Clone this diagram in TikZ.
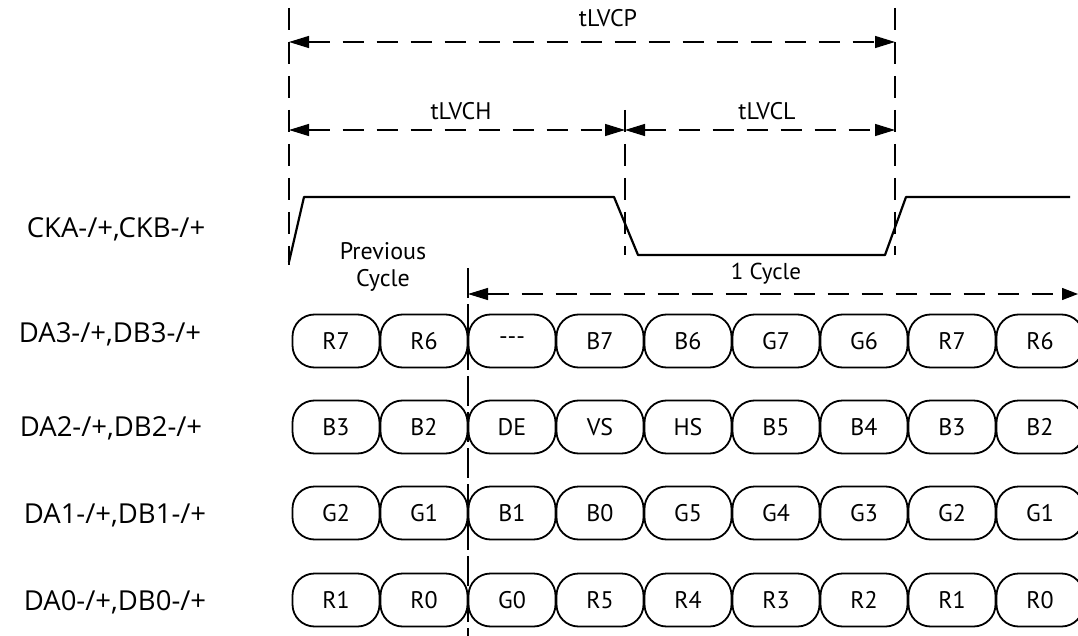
\documentclass[tikz,border=0pt]{standalone}
\usepackage{fontspec}
\setmainfont{PT Sans}
\newfontfamily\labelfont{Open Sans}
\usetikzlibrary{arrows.meta}

\tikzset{
    cell/.style={draw, line width=1.8pt, rounded corners=22pt,
        minimum width=87pt, minimum height=53pt, inner sep=0pt,
        font=\fontsize{24}{26}\selectfont},
    sig/.style={font=\labelfont\fontsize{27.5}{30}\selectfont},
    dimline/.style={line width=1.3pt, dash pattern=on 21pt off 13pt,
        {Triangle[length=20pt,width=12pt]}-{Triangle[length=20pt,width=12pt]}},
    guide/.style={line width=1.3pt, dash pattern=on 22pt off 12pt},
    dimtext/.style={font=\fontsize{24}{26}\selectfont}
}

\begin{document}
\begin{tikzpicture}[x=1pt, y=-1pt]
    \useasboundingbox (0,0) rectangle (1078,636);

    % 1. Guide points
    \coordinate (A0) at (289, 8);     % start of period
    \coordinate (A1) at (289, 265);
    \coordinate (B0) at (625, 110);   % falling edge
    \coordinate (B1) at (625, 255);
    \coordinate (C0) at (895, 8);     % end of period
    \coordinate (C1) at (895, 255);
    \coordinate (D0) at (468, 268);   % start of cycle
    \coordinate (D1) at (468, 636);

    \draw[guide] (A0) -- (A1);
    \draw[guide] (B0) -- (B1);
    \draw[guide] (C0) -- (C1);
    \draw[guide, dash pattern=on 30pt off 6pt, line width=1.1pt] (D0) -- (D1);

    % 2. Timing arrows
    \coordinate (PL) at (289, 42);
    \coordinate (PR) at (895, 42);
    \coordinate (HL) at (289, 130);
    \coordinate (HR) at (625, 130);
    \coordinate (LR) at (895, 130);
    \coordinate (YL) at (468, 294);
    \coordinate (YR) at (1078, 294);

    \draw[dimline] (PL) -- (PR);
    \draw[dimline] (HL) -- (HR);
    \draw[dimline] (HR) -- (LR);
    \draw[dimline, {Triangle[length=20pt,width=12pt]}-{Triangle[length=16pt,width=12pt]}] (YL) -- (YR);

    \node[dimtext] (tlvcp) at (608, 18) {tLVCP};
    \node[dimtext] (tlvch) at (461, 111) {tLVCH};
    \node[dimtext] (tlvcl) at (767, 111) {tLVCL};
    \node[dimtext, font=\fontsize{23}{25}\selectfont] (cyc) at (766, 274) {1 Cycle};
    \node[dimtext, align=center, font=\fontsize{24}{27}\selectfont] (prev) at (383, 267) {Previous\\Cycle};

    % 3. Clock waveform
    \draw[line width=2.2pt, line join=round]
        (289, 262) -- (304, 197) -- (614, 197) -- (638, 255)
        -- (885, 255) -- (906, 197) -- (1070, 197);

    % 4. Signal names
    \node[sig] (ck) at (116, 229) {CKA-/+,CKB-/+};
    \node[sig] (d3) at (110, 334) {DA3-/+,DB3-/+};
    \node[sig] (d2) at (111, 428) {DA2-/+,DB2-/+};
    \node[sig] (d1) at (115, 515) {DA1-/+,DB1-/+};
    \node[sig] (d0) at (115, 602) {DA0-/+,DB0-/+};

    % 5. Data cells
    \begin{scope}
        \clip (0,0) rectangle (1078,636);
        \foreach \row/\y/\bits in {
            3/341/{R7,R6,-{}-{}-,B7,B6,G7,G6,R7,R6},
            2/427/{B3,B2,DE,VS,HS,B5,B4,B3,B2},
            1/513/{G2,G1,B1,B0,G5,G4,G3,G2,G1},
            0/600/{R1,R0,G0,R5,R4,R3,R2,R1,R0}}
            \foreach \b [count=\i from 0] in \bits
                \node[cell] (c\row-\i) at (336+88*\i, \y) {\b};
    \end{scope}

\end{tikzpicture}
\end{document}
